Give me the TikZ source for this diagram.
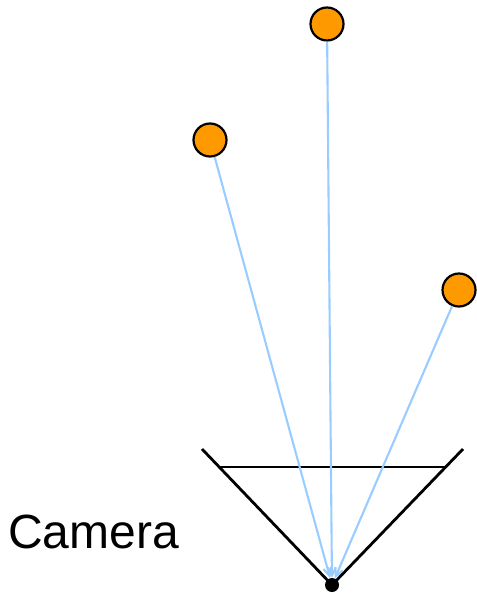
\documentclass[tikz,border=0pt]{standalone}
\usepackage{fontspec}
\setmainfont{Liberation Sans}
\usetikzlibrary{arrows.meta,positioning,calc}
\definecolor{starorange}{RGB}{255,153,0}
\definecolor{raysblue}{RGB}{153,204,255}
\tikzset{
  pt/.style={circle,draw=black,fill=starorange,line width=2.2pt,
             minimum size=33pt,inner sep=0pt},
  ray/.style={-{Straight Barb[length=8pt,width=8pt]},line width=2.1pt,raysblue},
  cone/.style={line width=2.8pt,black},
}
\begin{document}
\begin{tikzpicture}[x=1pt,y=-1pt]
  \useasboundingbox (0,0) rectangle (476,593);
  % points in the scene
  \node[pt] (ptA) at (327,24) {};
  \node[pt] (ptB) at (210,140) {};
  \node[pt] (ptC) at (459,290) {};
  % camera centre and cone
  \node[circle,fill=black,minimum size=14pt,inner sep=0pt] (eye) at (332,585) {};
  \coordinate (camL) at (202,449);
  \coordinate (camR) at (463,449);
  \draw[cone] (camL) -- (eye.center) -- (camR);
  \draw[cone] ($(camL)!0.132!(eye.center)$) -- ($(camR)!0.132!(eye.center)$);
  \node[anchor=base west,inner sep=0pt,font=\fontsize{48}{56}\selectfont]
    (camlbl) at (8,548) {Camera};
  % rays
  \draw[ray] (ptA) -- (eye);
  \draw[ray] (ptB) -- (eye);
  \draw[ray] (ptC) -- (eye);
\end{tikzpicture}
\end{document}
